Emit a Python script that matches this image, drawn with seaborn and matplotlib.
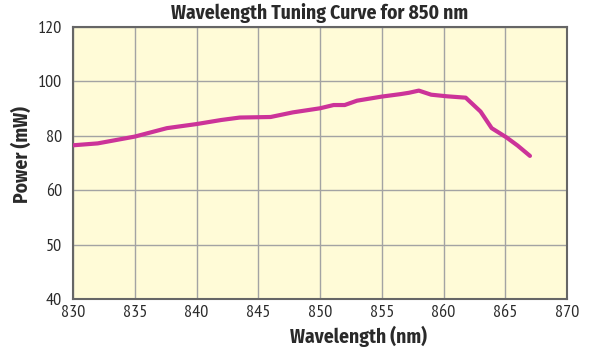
import numpy as np
import pandas as pd
import matplotlib
matplotlib.use('Agg')
import matplotlib.pyplot as plt
import seaborn as sns

# data
wavelength = [830, 832, 835, 837.6, 840, 842, 843.5, 846, 847.8, 850, 851.1, 852, 853,
              855, 856.5, 857.2, 858, 859, 860.3, 861.8, 863, 863.9, 865.1, 866, 867]
power = [76.5, 77.2, 79.7, 82.8, 84.3, 85.8, 86.7, 86.9, 88.6, 90.1, 91.3, 91.3, 92.9,
         94.4, 95.3, 95.8, 96.6, 95.1, 94.5, 94.0, 88.9, 82.8, 79.4, 76.4, 72.6]
x_ticks = [830, 835, 840, 845, 850, 855, 860, 865, 870]
y_ticks = [40, 50, 60, 80, 100, 120]

df = pd.DataFrame({'Wavelength': wavelength, 'Power': power})

sns.set_style('white')
plt.rcParams['font.family'] = ['PT Sans Narrow', 'DejaVu Sans']
bold_font = dict(family=['Fira Sans Condensed', 'DejaVu Sans'], fontsize=14,
                 fontweight='bold', color='#2a2a2a')


# the y axis is squeezed: 40-60 takes the same room per 10 as 60-120 per 20
def forward(v):
    v = np.asarray(v, dtype=float)
    return np.where(v >= 60, v, 60 - (60 - v) * 2)


def inverse(p):
    p = np.asarray(p, dtype=float)
    return np.where(p >= 60, p, 60 - (60 - p) / 2)


fig = plt.figure(figsize=(6, 3.5), dpi=100)
ax = fig.add_axes([0.1217, 0.1457, 0.8233, 0.7773])
ax.set_facecolor('#FFFBD7')

sns.lineplot(data=df, x='Wavelength', y='Power', ax=ax, color='#CC3399',
             linewidth=3, solid_capstyle='round', solid_joinstyle='round', zorder=3)

ax.set_yscale('function', functions=(forward, inverse))
ax.set_xlim(830, 870)
ax.set_ylim(40, 120)
ax.set_xticks(x_ticks)
ax.set_yticks(y_ticks)
ax.tick_params(axis='both', labelsize=13, length=0, colors='#2a2a2a')
ax.tick_params(axis='x', pad=4)
ax.tick_params(axis='y', pad=8)

ax.grid(True, color='#a3a3a3', linewidth=1)
for s in ax.spines.values():
    s.set_color('#666666')
    s.set_linewidth(1.5)

ax.set_title('Wavelength Tuning Curve for 850 nm', pad=6, **bold_font)
ax.set_xlabel('Wavelength (nm)', **bold_font)
ax.set_ylabel('Power (mW)', **bold_font)
ax.xaxis.set_label_coords(0.577, -0.1)
ax.yaxis.set_label_coords(-0.083, 0.53)

fig.savefig('out.png', dpi=100)
plt.close(fig)
